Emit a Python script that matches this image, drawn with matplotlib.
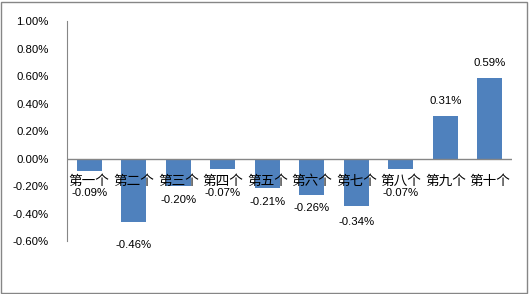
import matplotlib
matplotlib.use("Agg")
import matplotlib.pyplot as plt
from matplotlib.patches import Rectangle

plt.rcParams['font.family'] = ['Liberation Sans', 'Noto Sans CJK SC', 'DejaVu Sans']

categories = ['第一个', '第二个', '第三个', '第四个', '第五个', '第六个', '第七个', '第八个', '第九个', '第十个']
values = [-0.09, -0.46, -0.20, -0.07, -0.21, -0.26, -0.34, -0.07, 0.31, 0.59]
yticks = [-0.6, -0.4, -0.2, 0.0, 0.2, 0.4, 0.6, 0.8, 1.0]

fig = plt.figure(figsize=(5.29, 2.94), dpi=100)
ax = fig.add_axes([0.1267, 0.1786, 0.8413, 0.7483])

x = list(range(len(values)))
ax.bar(x, values, width=0.56, color='#4F81BD', zorder=2)

ax.set_xlim(-0.5, len(values) - 0.5)
ax.set_ylim(-0.6, 1.0)
ax.set_yticks(yticks)
ax.set_yticklabels(['%.2f%%' % t for t in yticks], fontsize=8.2)
ax.tick_params(axis='y', length=0, pad=13)
ax.set_xticks([])

for s in ['top', 'right', 'bottom']:
    ax.spines[s].set_visible(False)
ax.spines['left'].set_color('#868686')
ax.axhline(0, color='#868686', lw=1, zorder=3)

# category labels sit just under the zero line
for i, c in enumerate(categories):
    ax.text(i, -0.16, c, ha='center', va='center', fontsize=9.8,
            family=['Noto Sans CJK SC', 'DejaVu Sans'], zorder=4)

for i, v in enumerate(values):
    if v < 0:
        ly = min(v - 0.10 - max(0, -v - 0.3) * 0.4, -0.25)
    else:
        ly = v + 0.11
    ax.text(i, ly, '%.2f%%' % v, ha='center', va='center', fontsize=8.2,
            clip_on=False, zorder=4)

fig.patches.append(Rectangle((1 / 529, 1 / 294), 526 / 529, 291 / 294,
                             transform=fig.transFigure, fill=False,
                             edgecolor='#868686', lw=1))

fig.savefig('out.png', dpi=100)
